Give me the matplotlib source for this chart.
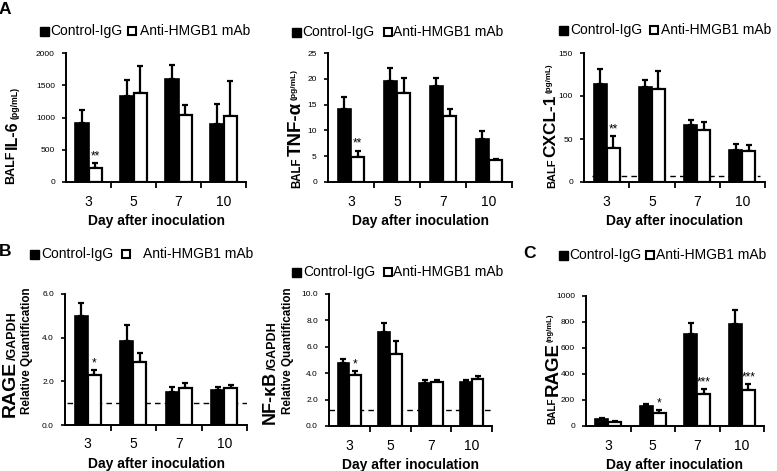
import numpy as np
import matplotlib
matplotlib.use("Agg")
import matplotlib.pyplot as plt
from matplotlib.patches import Rectangle

plt.rcParams['font.family'] = ['Liberation Sans', 'DejaVu Sans']

# ---- data ----
days = ['3', '5', '7', '10']

il6_ctrl = [920, 1340, 1600, 895]
il6_ctrl_err = [195, 240, 215, 315]
il6_anti = [212, 1380, 1035, 1020]
il6_anti_err = [88, 415, 155, 545]

tnf_ctrl = [14.2, 19.5, 18.7, 8.3]
tnf_ctrl_err = [2.2, 2.5, 1.4, 1.5]
tnf_anti = [4.8, 17.2, 12.7, 4.2]
tnf_anti_err = [1.3, 2.9, 1.4, 0.3]

cxcl_ctrl = [114, 110, 66, 37]
cxcl_ctrl_err = [17, 9, 6, 7.5]
cxcl_anti = [40, 108, 61, 35.5]
cxcl_anti_err = [13, 21, 8.5, 7]

rage_q_ctrl = [5.0, 3.85, 1.5, 1.6]
rage_q_ctrl_err = [0.58, 0.72, 0.25, 0.16]
rage_q_anti = [2.3, 2.9, 1.68, 1.68]
rage_q_anti_err = [0.2, 0.42, 0.26, 0.15]

nfkb_ctrl = [4.8, 7.15, 3.22, 3.3]
nfkb_ctrl_err = [0.3, 0.62, 0.23, 0.15]
nfkb_anti = [3.9, 5.48, 3.35, 3.55]
nfkb_anti_err = [0.27, 0.97, 0.15, 0.25]

rage_ctrl = [54, 157, 709, 786]
rage_ctrl_err = [5, 13, 85, 103]
rage_anti = [33, 100, 245, 276]
rage_anti_err = [6, 21, 36, 46]

stars_a = ['**', '', '', '']
stars_b = ['*', '', '', '']
stars_c = ['', '*', '***', '***']

W, H = 777, 471
fig = plt.figure(figsize=(W / 100, H / 100), dpi=100)
fig.patch.set_facecolor('white')


def add_ax(l, t, r, b):
    return fig.add_axes([l / W, 1 - b / H, (r - l) / W, (b - t) / H])


def draw_panel(ax, ctrl, ctrl_err, anti, anti_err, stars, ymax, ystep, fmt,
               dash=None, dash_span=(-0.5, 3.5)):
    x = np.arange(len(days))
    w = 0.29
    ax.bar(x - w / 2, ctrl, w, color='black', edgecolor='black', linewidth=1.2, zorder=3)
    ax.bar(x + w / 2, anti, w, color='white', edgecolor='black', linewidth=1.6, zorder=3)
    z = np.zeros(len(days))
    ax.errorbar(x - w / 2, ctrl, yerr=[z, ctrl_err], fmt='none', ecolor='black',
                elinewidth=1.6, capsize=1.9, capthick=1.6, zorder=2)
    ax.errorbar(x + w / 2, anti, yerr=[z, anti_err], fmt='none', ecolor='black',
                elinewidth=1.6, capsize=1.9, capthick=1.6, zorder=2)
    for i, s in enumerate(stars):
        if s:
            ax.annotate(s, (x[i] + w / 2, anti[i] + anti_err[i]), xytext=(0, 0.5),
                        textcoords='offset points', ha='center', va='bottom',
                        fontsize=8.5, zorder=5)
    if dash is not None:
        ax.hlines(dash, dash_span[0], dash_span[1], colors='black',
                  linestyles=(0, (4, 3)), linewidth=1.0, zorder=1)
    ax.set_xlim(-0.5, 3.5)
    ax.set_ylim(0, ymax)
    yt = np.arange(0, ymax + ystep / 2, ystep)
    ax.set_yticks(yt)
    ax.set_yticklabels([fmt.format(v) for v in yt])
    ax.set_xticks([0.5, 1.5, 2.5, 3.5])
    ax.set_xticklabels([])
    ax.set_xticks(x, days, minor=True)
    ax.tick_params(axis='x', which='major', length=4, width=1.3, direction='out')
    ax.tick_params(axis='x', which='minor', length=0, labelsize=10, pad=9)
    ax.tick_params(axis='y', length=3, width=1.2, labelsize=6, pad=5)
    for sp in ['top', 'right']:
        ax.spines[sp].set_visible(False)
    for sp in ['left', 'bottom']:
        ax.spines[sp].set_linewidth(1.4)
    ax.set_xlabel('Day after inoculation', fontsize=10, fontweight='bold', labelpad=4)
    ax.patch.set_alpha(0)


def legend(xs, y):
    s1, t1, s2, t2 = xs
    fig.patches.append(Rectangle((s1 / W, 1 - (y + 4.5) / H), 9 / W, 9 / H,
                                 transform=fig.transFigure, facecolor='black',
                                 edgecolor='black', linewidth=1))
    fig.text(t1 / W, 1 - y / H, 'Control-IgG', ha='left', va='center', fontsize=10)
    fig.patches.append(Rectangle((s2 / W, 1 - (y + 4) / H), 8 / W, 8 / H,
                                 transform=fig.transFigure, facecolor='white',
                                 edgecolor='black', linewidth=1.5))
    fig.text(t2 / W, 1 - y / H, 'Anti-HMGB1 mAb', ha='left', va='center', fontsize=10)


renderer = fig.canvas.get_renderer()


def ylabel(parts, y0, gap=1.5):
    # parts: (text, size, x centre in px); stacked bottom-up from y0 (px from top)
    y = y0
    for s, size, xc in parts:
        t = fig.text(xc / W, 1 - y / H, s, rotation=90, ha='center', va='bottom',
                     fontsize=size, fontweight='bold')
        bb = t.get_window_extent(renderer)
        y -= bb.height + gap


# ---- panel A ----
ax = add_ax(66, 53, 246, 182)
draw_panel(ax, il6_ctrl, il6_ctrl_err, il6_anti, il6_anti_err, stars_a, 2000, 500, '{:.0f}')
legend((40, 50, 128, 140), 31)
ylabel([('BALF', 9, 11.5), ('IL-6', 11.5, 12.5), ('(pg/mL)', 6.3, 15)], 184)

ax = add_ax(328, 53, 512, 182)
draw_panel(ax, tnf_ctrl, tnf_ctrl_err, tnf_anti, tnf_anti_err, stars_a, 25, 5, '{:.0f}')
legend((292, 302, 384, 393), 32)
ylabel([('BALF', 8.3, 297), ('TNF-α', 13.5, 296), ('(pg/mL)', 6, 294.5)], 188)

ax = add_ax(584, 53, 765, 182)
draw_panel(ax, cxcl_ctrl, cxcl_ctrl_err, cxcl_anti, cxcl_anti_err, stars_a, 150, 50, '{:.0f}',
           dash=7.5, dash_span=(-0.33, 3.4))
legend((559, 570, 650, 661), 30)
ylabel([('BALF', 8, 552.5), ('CXCL-1', 12.4, 551), ('(pg/mL)', 5.8, 549.5)], 188)

# ---- panel B ----
ax = add_ax(65, 294, 247, 425)
draw_panel(ax, rage_q_ctrl, rage_q_ctrl_err, rage_q_anti, rage_q_anti_err, stars_b, 6, 2, '{:.1f}',
           dash=1.0, dash_span=(-0.45, 3.5))
legend((30, 41, 122, 143), 254)
ylabel([('RAGE', 14, 10.5), ('/GAPDH', 9, 13)], 417, gap=0.5)
fig.text(27 / W, 1 - 351 / H, 'Relative Quantification', rotation=90, ha='center', va='center',
         fontsize=8.4, fontweight='bold')

ax = add_ax(329, 294, 492, 426)
draw_panel(ax, nfkb_ctrl, nfkb_ctrl_err, nfkb_anti, nfkb_anti_err, stars_b, 10, 2, '{:.1f}',
           dash=1.2, dash_span=(-0.5, 3.5))
legend((292, 303, 384, 393), 272)
ylabel([('NF-κB', 13, 270.5), ('/GAPDH', 9, 273)], 424, gap=0.5)
fig.text(287.5 / W, 1 - 351 / H, 'Relative Quantification', rotation=90, ha='center', va='center',
         fontsize=8.4, fontweight='bold')

# ---- panel C ----
ax = add_ax(586, 296, 764, 426)
draw_panel(ax, rage_ctrl, rage_ctrl_err, rage_anti, rage_anti_err, stars_c, 1000, 200, '{:.0f}')
legend((559, 569, 646, 656), 255)
ylabel([('BALF', 7.2, 552), ('RAGE', 13.5, 553), ('(ng/mL)', 5.6, 550)], 424, gap=1)

# panel letters
fig.text(5 / W, 1 - 10 / H, 'A', ha='center', va='center', fontsize=12.5, fontweight='bold')
fig.text(5 / W, 1 - 251 / H, 'B', ha='center', va='center', fontsize=12.5, fontweight='bold')
fig.text(530 / W, 1 - 253 / H, 'C', ha='center', va='center', fontsize=12.5, fontweight='bold')

fig.savefig('out.png', dpi=100)
